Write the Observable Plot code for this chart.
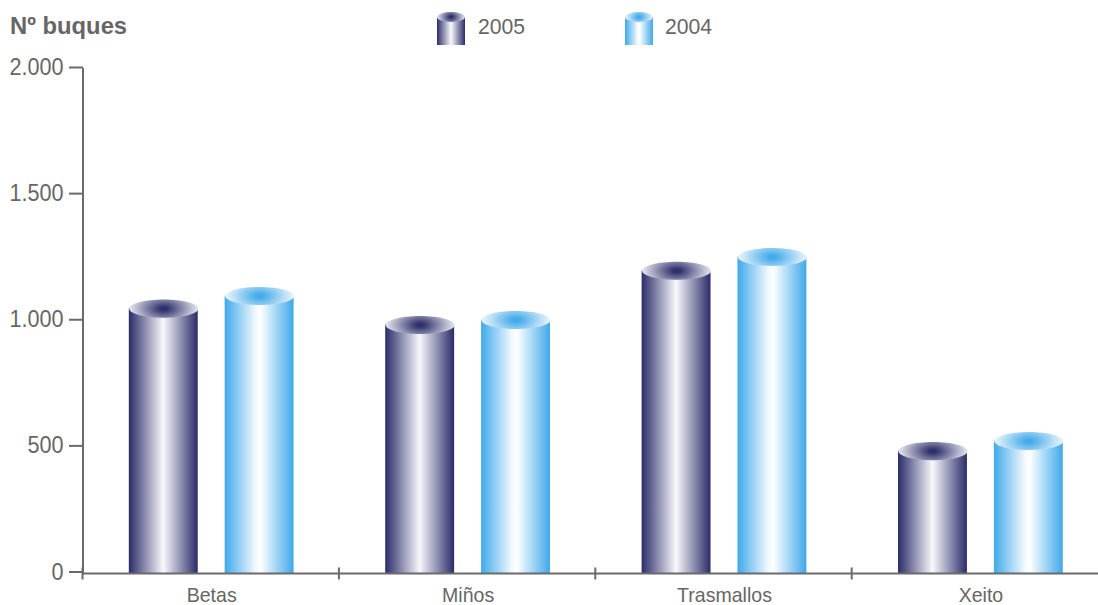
<!DOCTYPE html>
<html><head><meta charset="utf-8">
<script src="https://cdn.jsdelivr.net/npm/d3@7"></script>
<script src="https://cdn.jsdelivr.net/npm/@observablehq/plot@0.6"></script>
<style>
html,body{margin:0;padding:0;background:#fff;overflow:hidden}
body{font-family:"Liberation Sans",Arial,sans-serif;color:#666}
#head{position:relative;height:50px;width:1098px}
#title{position:absolute;left:10px;top:12px;font-weight:bold;font-size:23.8px;line-height:28px;color:#666}
.lg{position:absolute;top:12px;height:33px}
.lgt{position:absolute;top:14px;font-size:21.2px;line-height:26px;color:#666}
</style></head><body>
<div id="head">
  <div id="title">Nº buques</div>
  <svg class="lg" style="left:437px" width="28" height="33"><rect y="5" width="28" height="28" fill="url(#body2005)"/><ellipse cx="14" cy="5" rx="14" ry="5" fill="url(#cap2005)"/></svg>
  <div class="lgt" style="left:478px">2005</div>
  <svg class="lg" style="left:625px" width="28" height="33"><rect y="5" width="28" height="28" fill="url(#body2004)"/><ellipse cx="14" cy="5" rx="14" ry="5" fill="url(#cap2004)"/></svg>
  <div class="lgt" style="left:665px">2004</div>
</div>
<script>
const categories = ["Betas", "Miños", "Trasmallos", "Xeito"];
const seriesNames = ["2005", "2004"];
const values2005 = [1050, 985, 1200, 485];
const values2004 = [1100, 1005, 1255, 525];
const yTicks = [0, 500, 1000, 1500, 2000];

const rows = categories.flatMap((c, i) => [
  {cat: c, series: "2005", value: values2005[i]},
  {cat: c, series: "2004", value: values2004[i]}
]);

const ink = "#6a6a6a";
const capSymbol = {draw(ctx, size) {
  const rx = Math.sqrt(size / Math.PI), ry = rx * 0.262, k = 0.5523;
  ctx.moveTo(-rx, 0);
  ctx.bezierCurveTo(-rx, -ry * k, -rx * k, -ry, 0, -ry);
  ctx.bezierCurveTo(rx * k, -ry, rx, -ry * k, rx, 0);
  ctx.bezierCurveTo(rx, ry * k, rx * k, ry, 0, ry);
  ctx.bezierCurveTo(-rx * k, ry, -rx, ry * k, -rx, 0);
  ctx.closePath();
}};
const tickSymbol = {draw(ctx, size) {
  const r = Math.sqrt(size / Math.PI);
  ctx.moveTo(0, -r);
  ctx.lineTo(0, r);
}};

const plot = Plot.plot({
  width: 1098, height: 555,
  marginTop: 18.5, marginBottom: 32, marginLeft: 83, marginRight: -10.6,
  style: {overflow: "hidden", fontFamily: '"Liberation Sans", Arial, sans-serif', background: "#fff"},
  fx: {domain: categories, padding: 0, round: false, axis: null},
  x: {domain: seriesNames, paddingInner: 0.28125, paddingOuter: 0.478, round: false, axis: null},
  y: {domain: [0, 2000], axis: null},
  color: {type: "identity"},
  marks: [
    Plot.barY(rows, {fx: "cat", x: "series", y: "value", fill: d => `url(#body${d.series})`}),
    Plot.dot(rows, {fx: "cat", x: "series", y: "value", r: 34.5, symbol: capSymbol, fill: d => `url(#cap${d.series})`, stroke: "none"}),
    Plot.frame({anchor: "left", facet: "super", stroke: ink, strokeWidth: 2, dx: -0.5}),
    Plot.frame({anchor: "bottom", facet: "super", stroke: ink, strokeWidth: 2}),
    Plot.dot(categories, {fx: d => d, frameAnchor: "bottom-left", r: 6, symbol: tickSymbol, stroke: ink, strokeWidth: 2, dx: -1}),
    Plot.axisY({anchor: "left", ticks: yTicks, tickSize: 14, tickPadding: 6, stroke: ink, strokeWidth: 2, fill: "#666", color: ink,
      fontSize: 23.5, label: null, tickFormat: d => d3.format(",")(d).replace(",", "."), dy: -1.5, className: "ya"}),
    Plot.axisFx({anchor: "bottom", tickSize: 0, tickPadding: 14, label: null, fontSize: 21, fill: "#666", color: ink, className: "xa"})
  ]
});

const defs = document.createElementNS("http://www.w3.org/2000/svg", "defs");
const capT = 'gradientTransform="translate(0.5 0.5) scale(1 2) translate(-0.5 -0.5)"';
defs.innerHTML = `
<linearGradient id="body2005" x1="0" x2="1" y1="0" y2="0">
  <stop offset="0" stop-color="#2b2c69"/><stop offset="0.5" stop-color="#f8f8fc"/><stop offset="1" stop-color="#2b2c69"/>
</linearGradient>
<linearGradient id="body2004" x1="0" x2="1" y1="0" y2="0">
  <stop offset="0" stop-color="#3fa9ea"/><stop offset="0.45" stop-color="#f4f9fe"/>
  <stop offset="0.52" stop-color="#ffffff"/><stop offset="1" stop-color="#3fa9ea"/>
</linearGradient>
<radialGradient id="cap2005" cx="0.5" cy="0.5" r="0.5" ${capT}>
  <stop offset="0" stop-color="#2b2c69"/><stop offset="0.12" stop-color="#34356f"/><stop offset="1" stop-color="#e8e8f0"/>
</radialGradient>
<radialGradient id="cap2004" cx="0.5" cy="0.5" r="0.5" ${capT}>
  <stop offset="0" stop-color="#3fa9ea"/><stop offset="0.12" stop-color="#48adeb"/><stop offset="1" stop-color="#eef6fc"/>
</radialGradient>`;
plot.prepend(defs);
document.body.appendChild(plot);

// The reference type is slightly condensed: tall glyphs in a narrower set width.
function condense(selector, factor) {
  plot.querySelectorAll(selector + " text").forEach(t => {
    t.setAttribute("textLength", t.getComputedTextLength() * factor);
    t.setAttribute("lengthAdjust", "spacingAndGlyphs");
  });
}
condense(".ya", 0.92);
condense(".xa", 0.93);
</script>
</body></html>
